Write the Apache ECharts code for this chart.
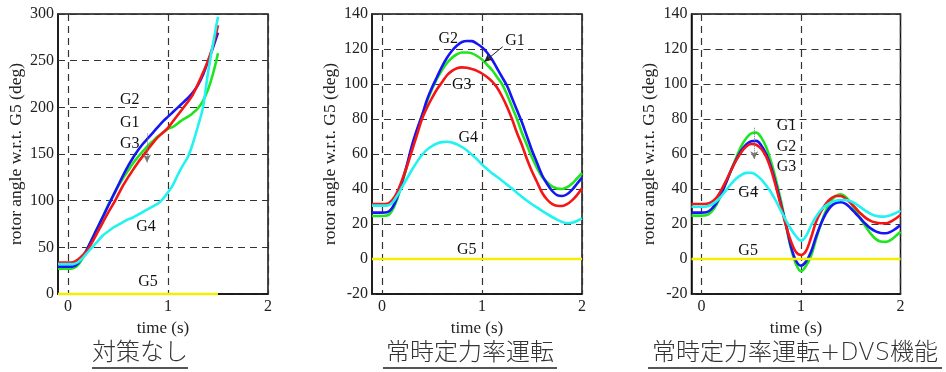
<!DOCTYPE html>
<html>
<head>
<meta charset="utf-8">
<script src="https://cdn.jsdelivr.net/npm/echarts@6/dist/echarts.min.js"></script>
<style>
html,body{margin:0;padding:0;background:#fff;}
#chart{width:946px;height:372px;}
</style>
</head>
<body>
<div id="chart"></div>
<script>
// time axis (s)
const T1 = [-0.1,0,0.05,0.1,0.15,0.2,0.25,0.3,0.35,0.4,0.45,0.5,0.55,0.6,0.65,0.7,0.75,0.8,0.85,0.9,0.95,1.0,1.05,1.1,1.15,1.2,1.25,1.3,1.35,1.4,1.45,1.5];
const T2 = [-0.1,0,0.05,0.1,0.15,0.2,0.25,0.3,0.35,0.4,0.45,0.5,0.55,0.6,0.65,0.7,0.75,0.8,0.85,0.9,0.95,1.0,1.05,1.1,1.15,1.2,1.25,1.3,1.35,1.4,1.45,1.5,1.55,1.6,1.65,1.7,1.75,1.8,1.85,1.9,1.95,2.0];
const T_G5_1 = [-0.1,1.5];
const T_G5_2 = [-0.1,2.0];
const G5_FLAT = [0,0];

// 対策なし
const P1_G1 = [27,27,27.5,31,39,50,61,72,83,95,105,115,124,132,140,147,153,159,164,169,173,177,179,183,187,190,194,199,207,219,236,258];
const P1_G2 = [29.3,29.3,29.5,33,40,50,61,72,83,94,105,116,127,137,146,154,161,167,173,179,185,190,195,200,205,210,216,224,235,249,264,280];
const P1_G3 = [33.6,33.6,34,37,42,48,57,67,77,87,96,106,116,125,133,141,148,155,162,168,173,178,185,192,199,206,214,225,237,250,266,288];
const P1_G4 = [32,32,32,34,39,45,51,57,63,67,71,74,77,80,82,85,88,91,94,97,102,109,117,128,138,147,162,180,200,237,268,297];

// 常時定力率運転
const P2_G1 = [24.6,24.6,24.8,27.5,34,43,53,64,73,82,90,97,103,108,112,115,117,118,118,117.5,116,114,111,108,104,100,94,87,80,72,65,58,52,47,44,41.5,40.3,40,41,43,46,49];
const P2_G2 = [26.5,26.5,26.7,29,35,44,54,65,74,82,91,98,104,110,115,119,122,124,124.6,124.5,123,121,118,114,109,104,99,92,85,78,70,62,55,48,43,39,36.5,36,37,39.5,43,46.5];
const P2_G3 = [31.4,31.4,31.5,33.5,38,45,53,62,71,80,86.5,92,97,101,105,107.5,109,109.5,109.3,108.5,107.5,106,104,101.5,98,93,87,80,72,65,57,50,44,38,34,31.5,30.4,30.3,31.3,33.5,36.5,40.4];
const P2_G4 = [30.5,30.5,30.5,32,36,41,46,51,55.5,59.5,62.5,64.5,66,66.8,67,66.5,65.5,64,62,59.5,57,54,51.5,49,47,44.7,42.5,40.3,37.8,35.5,33.3,31.3,29.5,27.5,25.7,24,22.5,21.2,20.5,20.7,21.7,23.2];

// 常時定力率運転+DVS機能
const P3_G1 = [24.8,24.8,25,27,31,37,44,51,58,64.5,69,71.8,72.2,69.5,64,55.5,45,33,19,6,-3,-7,-4,1.5,11,20,27.5,33,36,37,35.5,32,27.5,23,18.5,14.5,11.5,10,9.8,10.8,13,15.6];
const P3_G2 = [26.5,26.5,26.7,28.5,32,37.5,44,51,57,62,65.5,67.3,67.5,65,60,52.5,42.5,31,19.5,7,-1,-3.8,-1.5,4,12.5,20,26,30,32,32.4,31.5,29,26,23,20,17.5,15.8,14.9,14.7,15.5,17.2,19.4];
const P3_G3 = [31.4,31.4,31.5,32.5,35,39.5,45,51,56.5,61,64.3,65.7,65.3,63,58.5,51,41,30,19,10,4,2.3,4.5,12,21,27,31.5,34.5,36,36,34.5,32,29,26,23.5,21.8,20.8,20.4,20.4,21.3,23,25.1];
const P3_G4 = [29.9,29.9,30,31,33,36,39.5,43,46,48,49.2,49.3,48,45.5,42,38,33,27.5,22,17,13,10.5,13,19,24,28,30.5,32.3,33.3,33.7,33.7,33,31.5,29.5,27.5,25.8,24.7,24.2,24.3,25,26.2,27.6];

// curve labels: [text, t, deg]
const P1_LABELS = [['G2',0.617,208],['G1',0.617,183],['G3',0.617,161],['G4',0.78,72],['G5',0.8,13]];
const P2_LABELS = [['G2',0.663,126],['G1',1.33,124.6],['G3',0.797,99.4],['G4',0.863,69],['G5',0.847,5.5]];
const P3_LABELS = [['G1',0.854,76],['G2',0.854,64.2],['G3',0.854,52.8],['G4',0.469,37.9],['G5',0.469,4.7]];

// pointer arrows: [from, to]
const P1_ARROW = [[0.79,172],[0.79,141]];
const P2_ARROW = [[1.207,121.3],[1.023,112.7]];
const P3_ARROW = [[0.53,75],[0.53,57]];

const X_TICKS = [0,1,2];
const TITLES = ['対策なし','常時定力率運転','常時定力率運転+DVS機能'];
const Y_NAME = 'rotor angle w.r.t. G5 (deg)';

const COLORS = {G1:'#1ee61e',G2:'#1515f5',G3:'#f51515',G4:'#22f2f2',G5:'#f0f000'};
const SERIF = '"Liberation Serif", "DejaVu Serif", serif';
const DASH = {color:'#333',width:1.2,type:[7,5]};

function zip(t,v){ return t.map(function(x,i){ return [x,v[i]]; }); }

function curve(idx,name,t,v){
    return {
        type:'line', xAxisIndex:idx, yAxisIndex:idx,
        data:zip(t,v), smooth:0.35, symbol:'none', clip:false,
        lineStyle:{color:COLORS[name],width:2.6}, z:3, silent:true
    };
}

function labels(idx,list,arrow,dotted){
    return {
        type:'scatter', xAxisIndex:idx, yAxisIndex:idx, symbolSize:0.1, z:5, silent:true,
        itemStyle:{color:'#111',opacity:1},
        data:list.map(function(l){ return {name:l[0],value:[l[1],l[2]]}; }),
        label:{show:true,position:'inside',formatter:'{b}',fontFamily:SERIF,fontSize:16,
            color:'#111',textBorderWidth:0,opacity:1},
        markLine:{
            silent:true, symbol:['none','arrow'], symbolSize:[6,8],
            label:{show:false},
            lineStyle:{color:dotted?'#777':'#222',width:1,type:dotted?'dotted':'solid'},
            data:[[{coord:arrow[0]},{coord:arrow[1]}]]
        }
    };
}

const GRIDS = [
    {left:58,top:14,width:210,height:280},
    {left:372,top:14,width:210,height:280},
    {left:691.5,top:14,width:209,height:280}
];

const chart = echarts.init(document.getElementById('chart'),null,{renderer:'canvas'});

const xAxes = GRIDS.map(function(g,i){
    return {
        type:'value', gridIndex:i, min:-0.1, max:2,
        name:'time (s)', nameLocation:'middle', nameGap:21,
        nameTextStyle:{fontFamily:SERIF,fontSize:17,color:'#222'},
        axisLine:{show:true,onZero:false,lineStyle:{color:'#111',width:1.5}},
        axisTick:{show:true,inside:true,length:4,customValues:X_TICKS,lineStyle:{color:'#333'}},
        axisLabel:{customValues:X_TICKS,fontFamily:SERIF,fontSize:16,color:'#222',margin:5},
        splitLine:{show:true,lineStyle:DASH}
    };
});

const yAxes = GRIDS.map(function(g,i){
    const first = i===0;
    return {
        type:'value', gridIndex:i,
        min:first?0:-20, max:first?300:140, interval:first?50:20,
        name:Y_NAME, nameLocation:'middle', nameGap:33,
        nameTextStyle:{fontFamily:SERIF,fontSize:17.5,color:'#222'},
        axisLine:{show:true,onZero:false,lineStyle:{color:'#111',width:1.5}},
        axisTick:{show:true,inside:true,length:4,lineStyle:{color:'#333'}},
        axisLabel:{fontFamily:SERIF,fontSize:16,color:'#222',margin:4},
        splitLine:{show:true,lineStyle:DASH}
    };
});

const series = [
    curve(0,'G1',T1,P1_G1), curve(0,'G2',T1,P1_G2), curve(0,'G3',T1,P1_G3), curve(0,'G4',T1,P1_G4), curve(0,'G5',T_G5_1,G5_FLAT),
    curve(1,'G1',T2,P2_G1), curve(1,'G2',T2,P2_G2), curve(1,'G3',T2,P2_G3), curve(1,'G4',T2,P2_G4), curve(1,'G5',T_G5_2,G5_FLAT),
    curve(2,'G1',T2,P3_G1), curve(2,'G2',T2,P3_G2), curve(2,'G3',T2,P3_G3), curve(2,'G4',T2,P3_G4), curve(2,'G5',T_G5_2,G5_FLAT),
    labels(0,P1_LABELS,P1_ARROW,true),
    labels(1,P2_LABELS,P2_ARROW,false),
    labels(2,P3_LABELS,P3_ARROW,true)
];

// panel captions with underline
const CAPTION_X = [140,470,795];
const UNDERLINE = [[92,188],[383,557],[648,942]];
const graphic = [];
TITLES.forEach(function(t,i){
    graphic.push({type:'text',silent:true,style:{text:t,x:CAPTION_X[i],y:354,align:'center',verticalAlign:'middle',
        font:'300 24px "DejaVu Sans", "Noto Sans CJK JP", sans-serif',fill:'#333'}});
    graphic.push({type:'line',silent:true,shape:{x1:UNDERLINE[i][0],y1:368,x2:UNDERLINE[i][1],y2:368},
        style:{stroke:'#555',lineWidth:2}});
});

chart.setOption({
    animation:false,
    backgroundColor:'#fff',
    grid:GRIDS.map(function(g){ return Object.assign({show:true,borderColor:'#111',borderWidth:1.5,backgroundColor:'transparent'},g); }),
    xAxis:xAxes,
    yAxis:yAxes,
    series:series,
    graphic:graphic
});
</script>
</body>
</html>
